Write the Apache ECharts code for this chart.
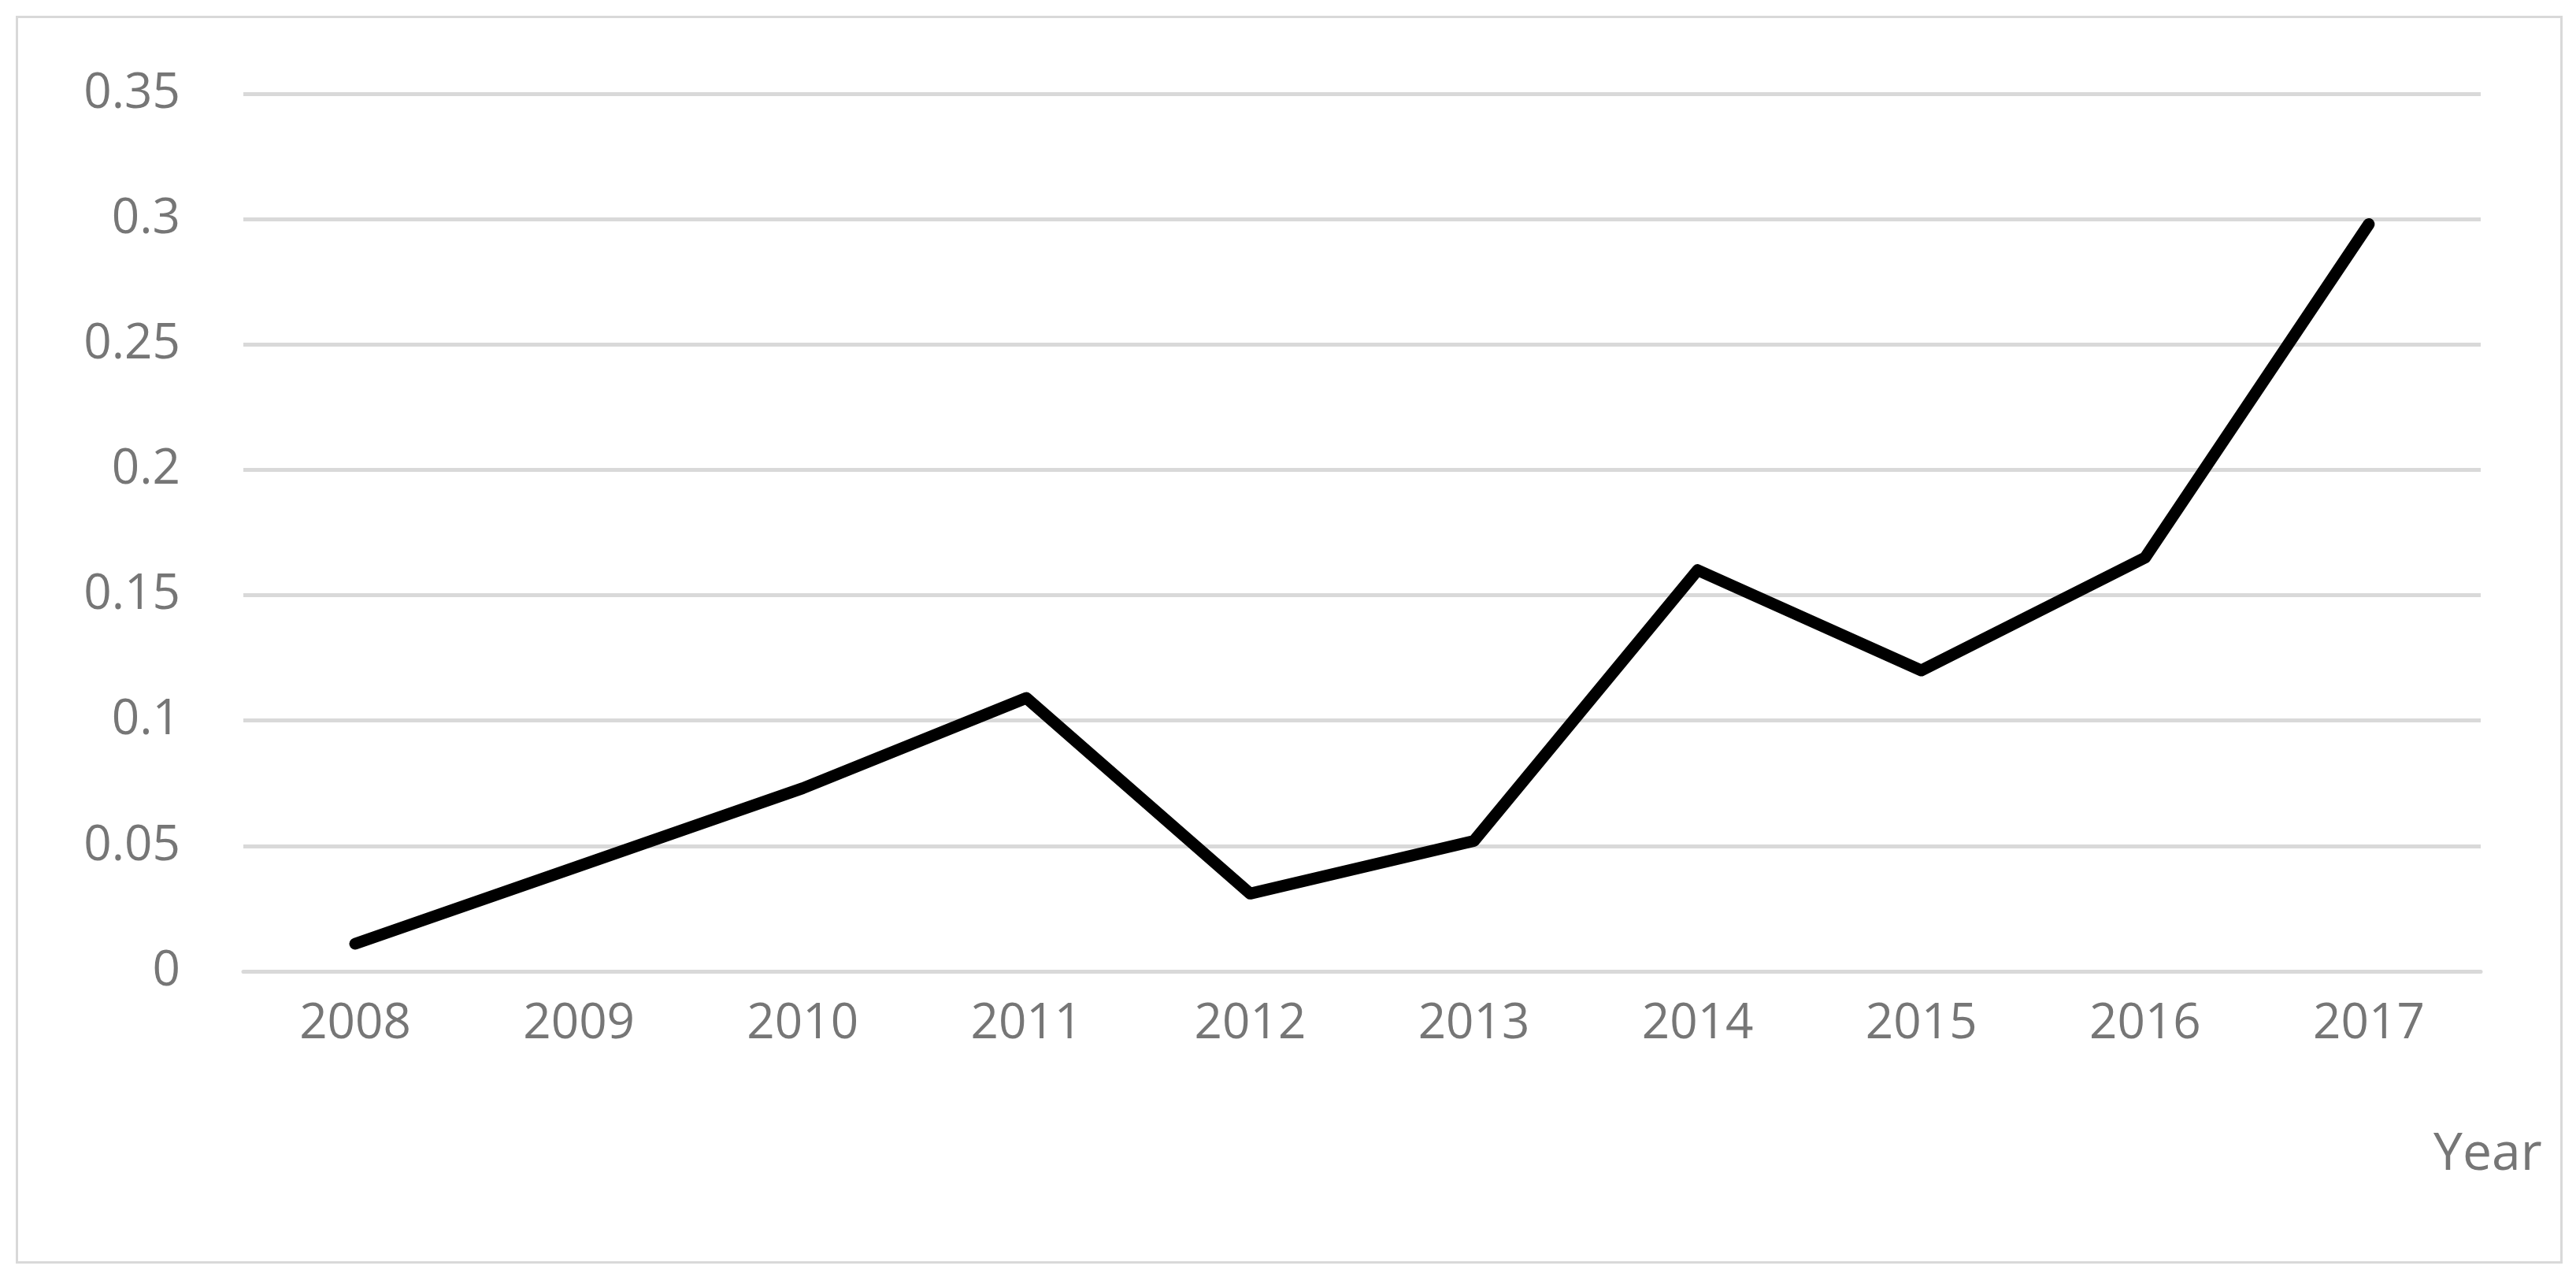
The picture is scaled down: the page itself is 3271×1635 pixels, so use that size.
<!DOCTYPE html>
<html>
<head>
<meta charset="utf-8">
<script src="https://cdn.jsdelivr.net/npm/echarts@6/dist/echarts.min.js"></script>
<style>
  html, body { margin: 0; padding: 0; background: #fff; }
  #chart { width: 3271px; height: 1635px; }
  #frame { position: absolute; left: 20px; top: 20px; width: 3228px; height: 1578px; border: 3px solid #d9d9d9; pointer-events: none; }
</style>
</head>
<body>
<div id="chart"></div>
<div id="frame"></div>
<script>
var years = ["2008", "2009", "2010", "2011", "2012", "2013", "2014", "2015", "2016", "2017"];
var values = [0.011, 0.042, 0.073, 0.109, 0.031, 0.052, 0.160, 0.120, 0.165, 0.298];

var chart = echarts.init(document.getElementById("chart"), null, { renderer: "canvas" });

var option = {
  textStyle: { fontFamily: "Open Sans" },
  grid: { left: 309, right: 121, top: 119, bottom: 402 },
  xAxis: {
    type: "category",
    data: years,
    name: "Year",
    nameLocation: "end",
    nameGap: 0,
    nameTextStyle: { color: "#767676", fontSize: 66, padding: [200, 0, 0, -60], verticalAlign: "top" },
    axisLine: { lineStyle: { color: "#d9d9d9", width: 5 } },
    axisTick: { show: false },
    axisLabel: { color: "#767676", fontSize: 62, margin: 36 },
  },
  yAxis: {
    type: "value",
    min: 0,
    max: 0.35,
    interval: 0.05,
    axisLine: { show: false },
    axisTick: { show: false },
    axisLabel: {
      color: "#767676",
      fontSize: 62,
      margin: 80,
      formatter: function (v) { return String(parseFloat(v.toFixed(2))); },
    },
    splitLine: { lineStyle: { color: "#d9d9d9", width: 5 } },
  },
  series: [
    {
      type: "line",
      data: values,
      symbol: "none",
      lineStyle: { color: "#000", width: 15, cap: "round", join: "round" },
    },
  ],
};

chart.setOption(option);
</script>
</body>
</html>
